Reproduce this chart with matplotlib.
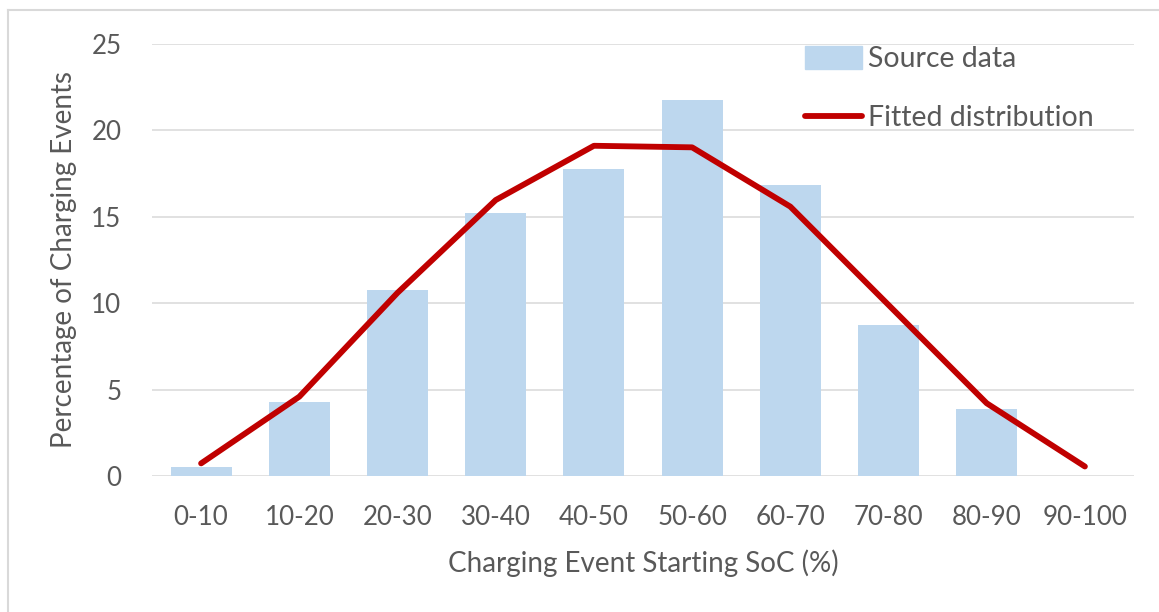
import matplotlib.pyplot as plt
from matplotlib.lines import Line2D

plt.rcParams['font.family'] = ['Lato', 'DejaVu Sans']

# SoC bins and share of charging events (%)
soc_bins = ['0-10', '10-20', '20-30', '30-40', '40-50',
            '50-60', '60-70', '70-80', '80-90', '90-100']
source_pct = [0.5, 4.3, 10.76, 15.22, 17.77, 21.76, 16.84, 8.72, 3.86, 0.0]
fitted_pct = [0.73, 4.59, 10.6, 15.97, 19.11, 19.02, 15.59, 9.9, 4.21, 0.55]

text_col = '#595959'
grid_col = '#D9D9D9'
bar_col = '#BDD7EE'
line_col = '#C00000'

fig = plt.figure(figsize=(11.59, 6.12), dpi=100)
ax = fig.add_axes([152 / 1159, 1 - 476 / 612, (1134 - 152) / 1159, (476 - 44) / 612])

x = range(len(soc_bins))
ax.bar(x, source_pct, width=0.62, color=bar_col, label='Source data', zorder=2)
ax.plot(x, fitted_pct, color=line_col, lw=4.2, solid_capstyle='round',
        solid_joinstyle='round', label='Fitted distribution', zorder=3)

ax.set_xlim(-0.5, len(soc_bins) - 0.5)
ax.set_ylim(0, 25)
ax.set_yticks(range(0, 26, 5))
ax.set_xticks(list(x))
ax.set_xticklabels(soc_bins)
ax.yaxis.grid(True, color=grid_col, lw=1.1, zorder=0)
ax.set_axisbelow(True)
for s in ax.spines.values():
    s.set_visible(False)
ax.tick_params(axis='both', length=0, labelsize=18.7, labelcolor=text_col)
ax.tick_params(axis='y', pad=22)
ax.tick_params(axis='x', pad=21)

ax.set_xlabel('Charging Event Starting SoC (%)', fontsize=20, color=text_col, labelpad=14)
ax.set_ylabel('Percentage of Charging Events', fontsize=20, color=text_col, labelpad=10)

handles = [plt.Rectangle((0, 0), 1, 1, color=bar_col),
           Line2D([0], [0], color=line_col, lw=4.2, solid_capstyle='round')]
fig.legend(handles, ['Source data', 'Fitted distribution'], loc='upper left',
           bbox_to_anchor=(805 / 1159, 1 - 46 / 612), frameon=False,
           fontsize=20.5, labelcolor=text_col, handlelength=2.0,
           handleheight=0.85, handletextpad=0.22, labelspacing=1.15, borderpad=0,
           borderaxespad=0)

# chart area frame (only top and left edges fall inside the canvas)
fig.add_artist(Line2D([8 / 1159, 8 / 1159], [0, 1 - 10 / 612], color=grid_col, lw=1.5))
fig.add_artist(Line2D([8 / 1159, 1], [1 - 10 / 612, 1 - 10 / 612], color=grid_col, lw=1.5))

fig.savefig('out.png', dpi=100)
